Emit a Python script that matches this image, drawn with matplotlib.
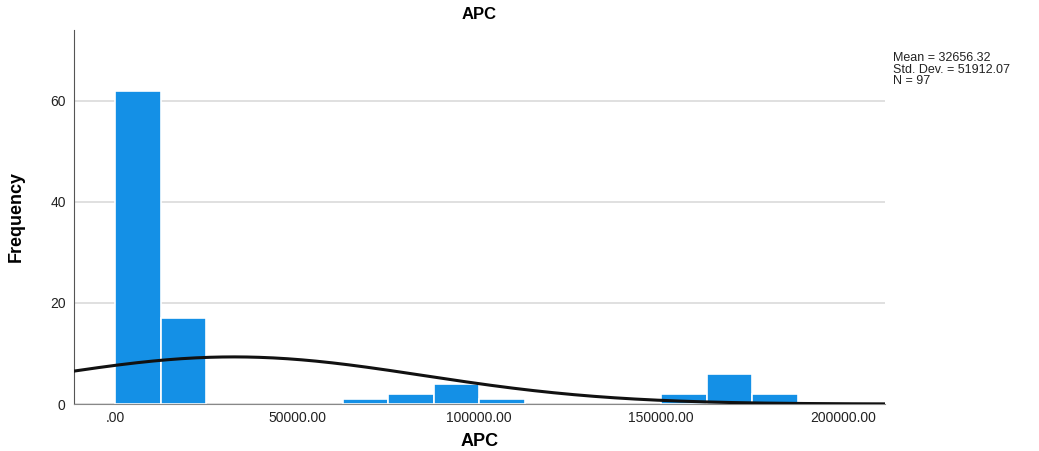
import numpy as np
import matplotlib.pyplot as plt

plt.rcParams['font.family'] = ['Liberation Sans', 'DejaVu Sans']

# Histogram of APC (bin width 12500, starting at 0)
bin_width = 12500
bin_starts = [0, 12500, 62500, 75000, 87500, 100000, 150000, 162500, 175000]
counts = [62, 17, 1, 2, 4, 1, 2, 6, 2]

mean_apc = 32656.32
sd_apc = 51912.07
n_obs = 97

x_ticks = [0, 50000, 100000, 150000, 200000]
x_tick_labels = [".00", "50000.00", "100000.00", "150000.00", "200000.00"]
y_ticks = [0, 20, 40, 60]

fig = plt.figure(figsize=(10.39, 4.51), dpi=100)
ax = fig.add_axes([74 / 1039, 1 - 404 / 451, (885 - 74) / 1039, (404 - 30) / 451])

ax.bar(bin_starts, counts, width=bin_width, align="edge",
       color="#1490e6", edgecolor="white", linewidth=1.2, zorder=2)

# Normal curve scaled to counts
xs = np.linspace(-11300, 211500, 400)
ys = n_obs * bin_width / (sd_apc * np.sqrt(2 * np.pi)) * np.exp(-0.5 * ((xs - mean_apc) / sd_apc) ** 2)
ax.plot(xs, ys, color="#111111", linewidth=2.2, zorder=3)

ax.set_xlim(-11300, 211500)
ax.set_ylim(0, 74)
ax.set_xticks(x_ticks)
ax.set_xticklabels(x_tick_labels)
ax.set_yticks(y_ticks)
ax.tick_params(length=0, labelsize=10, colors="#222222", pad=6)
ax.tick_params(axis="x", pad=5)
ax.yaxis.grid(True, color="#dddddd", linewidth=1.3, zorder=0)
ax.set_axisbelow(True)

for side in ["top", "right"]:
    ax.spines[side].set_visible(False)
ax.spines["left"].set_color("#555555")
ax.spines["bottom"].set_color("#888888")

ax.set_title("APC", fontsize=12, fontweight="bold", pad=8)
ax.set_xlabel("APC", fontsize=13, fontweight="bold", labelpad=6)
ax.set_ylabel("Frequency", fontsize=13, fontweight="bold", labelpad=18)

fig.text(893 / 1039, 1 - 52 / 451,
         "Mean = 32656.32\nStd. Dev. = 51912.07\nN = 97",
         fontsize=9, va="top", ha="left", linespacing=0.95, color="#222222")

fig.savefig("out.png", dpi=100)
